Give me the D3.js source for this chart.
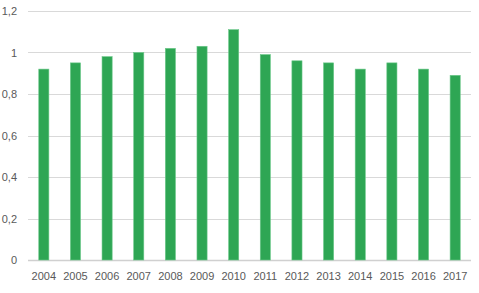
<!DOCTYPE html>
<html lang="en">
<head>
<meta charset="UTF-8"/>
<title>Bar chart</title>
<script src="https://d3js.org/d3.v7.min.js"></script>
<style>
    body { margin: 0; background: #fff; }
    svg text { font-family: "Liberation Sans", Arial, sans-serif; fill: #595959; font-size: 11px; }
</style>
</head>
<body>
<script>
    var years = ["2004", "2005", "2006", "2007", "2008", "2009", "2010",
                 "2011", "2012", "2013", "2014", "2015", "2016", "2017"];
    var values = [0.92, 0.95, 0.98, 1.00, 1.02, 1.03, 1.11,
                  0.99, 0.96, 0.95, 0.92, 0.95, 0.92, 0.89];
    var yTicks = [0, 0.2, 0.4, 0.6, 0.8, 1, 1.2];

    var w = 479;
    var h = 293;
    // "top" is reserved on window, so use plot* names
    var plotLeft = 28, plotRight = 471, plotTop = 11, plotBottom = 260;

    var svg = d3.select("body")
                .append("svg")
                .attr("width", w)
                .attr("height", h);

    var xScale = d3.scaleBand()
                .domain(years)
                .range([plotLeft, plotRight])
                .paddingInner(0.68)
                .paddingOuter(0.34);

    var yScale = d3.scaleLinear()
                .domain([0, 1.2])
                .range([plotBottom, plotTop]);

    // gridlines
    svg.selectAll("line.grid")
        .data(yTicks)
        .enter()
        .append("line")
        .attr("x1", plotLeft)
        .attr("x2", plotRight)
        .attr("y1", function(d) { return Math.round(yScale(d)) + 0.5; })
        .attr("y2", function(d) { return Math.round(yScale(d)) + 0.5; })
        .attr("stroke", function(d) { return d === 0 ? "#d0d0d0" : "#d9d9d9"; })
        .attr("stroke-width", function(d) { return d === 0 ? 1.5 : 1; });

    // y labels
    var fmt = function(d) { return String(d).replace(".", ","); };
    svg.selectAll("text.ylab")
        .data(yTicks)
        .enter()
        .append("text")
        .attr("text-anchor", "end")
        .attr("x", 17)
        .attr("y", function(d) { return yScale(d) + 4; })
        .text(fmt);

    // bars
    svg.selectAll("rect")
        .data(values)
        .enter()
        .append("rect")
        .attr("x", function(d, i) { return xScale(years[i]); })
        .attr("y", function(d) { return yScale(d); })
        .attr("width", xScale.bandwidth())
        .attr("height", function(d) { return plotBottom - yScale(d); })
        .attr("fill", "#2ea654")
        .attr("stroke", "#6cc88a")
        .attr("stroke-width", 0.6);

    // x labels
    svg.selectAll("text.xlab")
        .data(years)
        .enter()
        .append("text")
        .attr("text-anchor", "middle")
        .attr("x", function(d) { return xScale(d) + xScale.bandwidth() / 2; })
        .attr("y", 280)
        .text(function(d) { return d; });
</script>
</body>
</html>
